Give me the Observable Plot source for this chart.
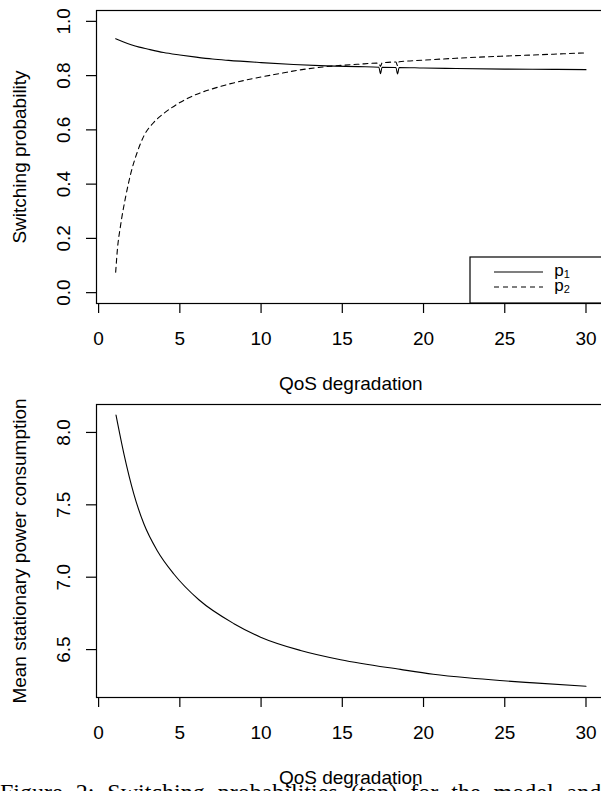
<!DOCTYPE html>
<html>
<head>
<meta charset="utf-8">
<script src="https://cdn.jsdelivr.net/npm/d3@7"></script>
<script src="https://cdn.jsdelivr.net/npm/@observablehq/plot@0.6"></script>
<style>
  html, body { margin: 0; padding: 0; background: #fff; overflow: hidden; width: 601px; height: 791px; }
  #wrap { position: relative; width: 601px; height: 791px; overflow: hidden; }
  #top, #bottom { position: absolute; left: 0; width: 606px; }
  #top svg, #bottom svg { max-width: none !important; display: block; }
  #top { top: 0; }
  #bottom { top: 400px; }
  #caption { position: absolute; left: 0; top: 779px; font-family: "Liberation Serif", "DejaVu Serif", serif; font-size: 24px; white-space: nowrap; word-spacing: 7px; color: #000; }
</style>
</head>
<body>
<div id="wrap">
  <div id="top"></div>
  <div id="bottom"></div>
  <div id="caption"></div>
</div>
<script>
// ---------- data ----------
const xTicks = [0, 5, 10, 15, 20, 25, 30];
const xTitle = "QoS degradation";

const topYTicks = [0, 0.2, 0.4, 0.6, 0.8, 1.0];
const topYTickLabels = ["0.0", "0.2", "0.4", "0.6", "0.8", "1.0"];
const topYTitle = "Switching probability";

const botYTicks = [6.5, 7.0, 7.5, 8.0];
const botYTickLabels = ["6.5", "7.0", "7.5", "8.0"];
const botYTitle = "Mean stationary power consumption";

const seriesNames = ["p1", "p2"];
const seriesBase = ["p", "p"];
const seriesSub = ["1", "2"];

const p1X = [1.05, 1.5, 2, 2.5, 3, 4, 5, 6, 7, 8, 10, 12, 14, 16, 17.25, 17.35, 17.45, 18.3, 18.4, 18.5, 20, 22, 25, 28, 30];
const p1Y = [0.936, 0.925, 0.914, 0.905, 0.898, 0.885, 0.876, 0.868, 0.861, 0.856, 0.848, 0.841, 0.836, 0.833, 0.831, 0.807, 0.831, 0.830, 0.806, 0.830, 0.828, 0.826, 0.824, 0.823, 0.822];

const p2X = [1.05, 1.15, 1.35, 1.66, 2.0, 2.38, 2.79, 3.4, 4.0, 4.84, 5.87, 7.1, 8.3, 10, 11.2, 12.4, 14, 16, 17.25, 17.35, 17.45, 18.3, 18.4, 18.5, 20, 22, 25, 28, 30];
const p2Y = [0.075, 0.155, 0.247, 0.352, 0.444, 0.518, 0.578, 0.628, 0.660, 0.695, 0.727, 0.753, 0.773, 0.795, 0.808, 0.821, 0.833, 0.842, 0.846, 0.834, 0.847, 0.850, 0.837, 0.851, 0.857, 0.864, 0.872, 0.879, 0.884];

const powerX = [1.07, 1.56, 2.17, 2.79, 3.61, 4.63, 6.17, 8.33, 9.97, 12.43, 14.9, 18.58, 20.6, 22.7, 24.7, 26.8, 30];
const powerY = [8.12, 7.85, 7.574, 7.367, 7.183, 7.022, 6.844, 6.679, 6.586, 6.494, 6.43, 6.363, 6.33, 6.305, 6.286, 6.27, 6.247];

const captionText = "Figure 2: Switching probabilities (top) for the model and mean stationary power";

// ---------- build ----------
const FONT = '"Liberation Sans", Arial, Helvetica, sans-serif';
const W = 606, ML = 96, MR = 1.5;

const p1 = p1X.map((x, i) => ({x, y: p1Y[i]}));
const p2 = p2X.map((x, i) => ({x, y: p2Y[i]}));
const power = powerX.map((x, i) => ({x, y: powerY[i]}));

function panel({height, marginTop, marginBottom, yDomain, yTicks, yTickLabels, yTitle, marks}) {
  return Plot.plot({
    width: W, height, marginLeft: ML, marginRight: MR, marginTop, marginBottom,
    x: {domain: [-0.13, 31.17]},
    y: {domain: yDomain},
    style: {fontFamily: FONT, fontSize: "19px", background: "transparent", color: "#000", overflow: "visible", maxWidth: "none"},
    marks: [
      ...marks,
      Plot.frame({stroke: "#000", strokeWidth: 1.2}),
      Plot.axisX({ticks: xTicks, tickSize: 10, tickPadding: 18, label: null, tickFormat: d => String(d), strokeWidth: 1.2}),
      Plot.axisY({ticks: yTicks, tickSize: 10, tickFormat: () => "", label: null, strokeWidth: 1.2}),
      Plot.text(yTicks, {y: d => d, text: (d, i) => yTickLabels[i], frameAnchor: "left", textAnchor: "middle", rotate: -90, dx: -32.5}),
      Plot.text([yTitle], {text: d => d, frameAnchor: "left", textAnchor: "middle", rotate: -90, dx: -77}),
      Plot.text([xTitle], {text: d => d, frameAnchor: "bottom", dy: 86})
    ]
  });
}

const topH = 400, topMT = 10, topMB = 97;
const topPlot = panel({
  height: topH, marginTop: topMT, marginBottom: topMB,
  yDomain: [-0.04, 1.04], yTicks: topYTicks, yTickLabels: topYTickLabels, yTitle: topYTitle,
  marks: [
    Plot.line(p1, {x: "x", y: "y", stroke: "#000", strokeWidth: 1.1, curve: "monotone-x"}),
    Plot.line(p2, {x: "x", y: "y", stroke: "#000", strokeWidth: 1.1, strokeDasharray: "5,4", curve: "monotone-x"})
  ]
});
document.getElementById("top").appendChild(topPlot);

// legend (bottom-right inside top panel)
(function () {
  const svg = d3.select(topPlot);
  const frameRight = W - MR, frameBottom = topH - topMB;
  const boxLeft = 470, boxTop = frameBottom - 46;
  const g = svg.append("g").attr("font-family", FONT).attr("font-size", 17);
  g.append("rect").attr("x", boxLeft).attr("y", boxTop).attr("width", frameRight - boxLeft).attr("height", frameBottom - boxTop)
    .attr("fill", "#fff").attr("stroke", "#000").attr("stroke-width", 1.2);
  seriesNames.forEach((name, i) => {
    const yy = boxTop + 15 + i * 15;
    g.append("line").attr("x1", boxLeft + 24).attr("x2", boxLeft + 73).attr("y1", yy).attr("y2", yy)
      .attr("stroke", "#000").attr("stroke-width", 1.1).attr("stroke-dasharray", i === 1 ? "5,4" : null);
    const t = g.append("text").attr("x", boxLeft + 92).attr("y", yy + 3.5);
    t.append("tspan").text(seriesBase[i]);
    t.append("tspan").attr("font-size", 11).attr("dy", 2.5).text(seriesSub[i]);
  });
})();

const botPlot = panel({
  height: 391, marginTop: 4, marginBottom: 94,
  yDomain: [6.169, 8.193], yTicks: botYTicks, yTickLabels: botYTickLabels, yTitle: botYTitle,
  marks: [
    Plot.line(power, {x: "x", y: "y", stroke: "#000", strokeWidth: 1.1, curve: "monotone-x"})
  ]
});
document.getElementById("bottom").appendChild(botPlot);

document.getElementById("caption").textContent = captionText;
</script>
</body>
</html>
